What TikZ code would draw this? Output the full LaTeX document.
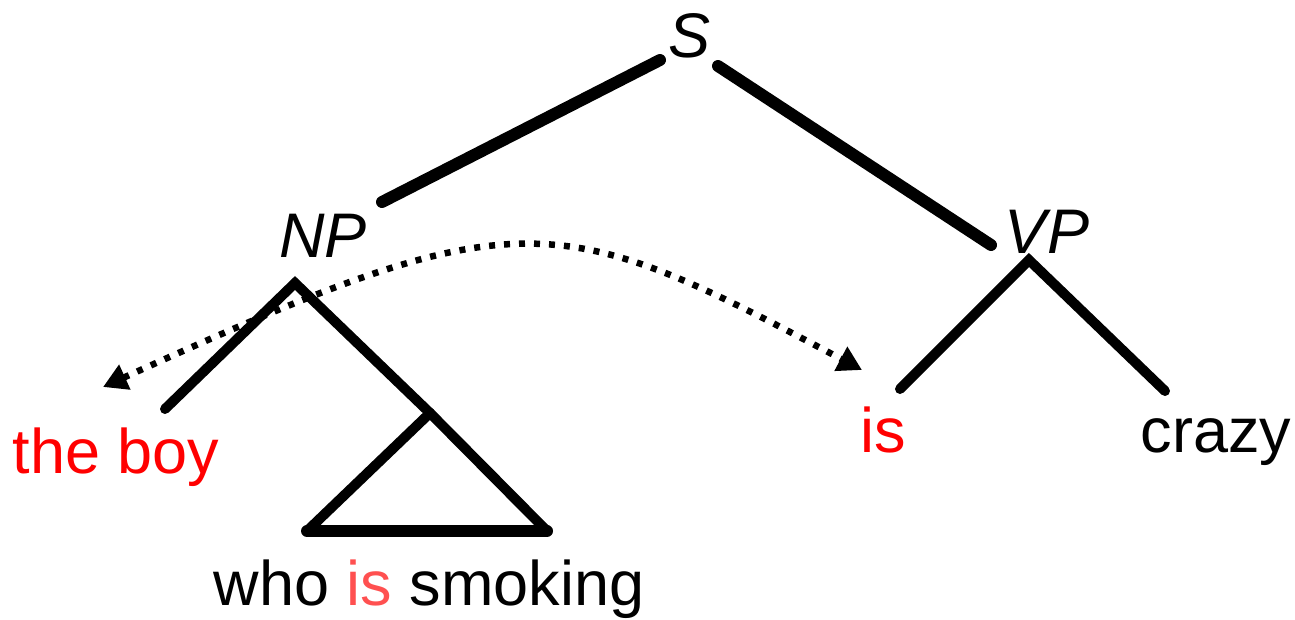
\documentclass[tikz,border=0pt]{standalone}
\usepackage{fontspec}
\setmainfont{Liberation Sans}
\usetikzlibrary{arrows.meta}
\definecolor{redA}{RGB}{255,0,0}
\definecolor{redB}{RGB}{255,80,80}
\tikzset{
  lbl/.style={anchor=base, inner sep=0pt, font=\fontsize{63}{70}\selectfont},
  cat/.style={lbl, font=\fontsize{63}{70}\selectfont\itshape},
  bigedge/.style={line width=12pt, line cap=round},
  edge/.style={line width=10pt, line cap=round, line join=miter},
  movearrow/.style={line width=6.5pt, dash pattern=on 6pt off 9pt,
    {Triangle[length=24pt,width=26pt]}-{Triangle[length=24pt,width=26pt]}}
}
\begin{document}
\begin{tikzpicture}[x=1pt,y=-1pt]
\useasboundingbox (0,0) rectangle (1295,619);
% labels
\node[cat] (S) at (690,57) {S};
\node[cat] (NP) at (323,257) {NP};
\node[cat] (VP) at (1047,253) {VP};
\node[lbl, text=redA] (boy) at (116,473) {the boy};
\node[lbl, text=redA] (is) at (883,452) {is};
\node[lbl] (crazy) at (1216,452) {crazy};
\node[lbl] (rel) at (429,605) {who \textcolor{redB}{is} smoking};
% coordinates of branch ends
\coordinate (sL) at (660,60);
\coordinate (npT) at (382,202);
\coordinate (sR) at (718,66);
\coordinate (vpT) at (991,245);
\coordinate (npA) at (295,283);
\coordinate (npL) at (165,409);
\coordinate (triA) at (430,413);
\coordinate (triL) at (307,531);
\coordinate (triR) at (547,531);
\coordinate (vpA) at (1029,260);
\coordinate (vpL) at (900,389);
\coordinate (vpR) at (1165,391);
\coordinate (arL) at (103,387);
\coordinate (arR) at (862,370);
% edges
\draw[bigedge] (sL) -- (npT);
\draw[bigedge] (sR) -- (vpT);
\draw[edge] (npL) -- (npA) -- (triA);
\draw[edge] (triA) -- (triL);
\draw[edge] (triA) -- (triR);
\draw[line width=12pt, line cap=round] (triL) -- (triR);
\draw[edge] (vpL) -- (vpA) -- (vpR);
% movement arrow
\draw[movearrow] (arL) .. controls (520,198) and (553,206) .. (arR);
\end{tikzpicture}
\end{document}
